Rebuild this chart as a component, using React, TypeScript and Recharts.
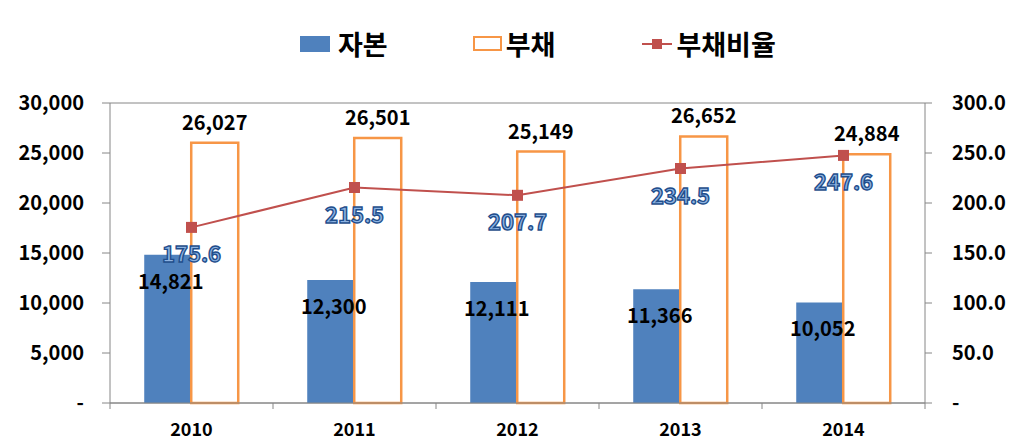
import { Bar, CartesianGrid, ComposedChart, LabelList, Line, XAxis, YAxis } from "recharts";

const YEARS = ["2010", "2011", "2012", "2013", "2014"];
const CAPITAL = [14821, 12300, 12111, 11366, 10052];
const DEBT = [26027, 26501, 25149, 26652, 24884];
const DEBT_RATIO = [175.6, 215.5, 207.7, 234.5, 247.6];
const LEFT_TICKS = [0, 5000, 10000, 15000, 20000, 25000, 30000];
const RIGHT_TICKS = [0, 50, 100, 150, 200, 250, 300];

const data = YEARS.map((year, i) => ({
  year,
  capital: CAPITAL[i],
  debt: DEBT[i],
  ratio: DEBT_RATIO[i],
}));

const BLUE = "#4f81bd";
const ORANGE = "#f79646";
const RED = "#c0504d";
const FONT = "'Noto Sans CJK KR', 'Noto Sans', sans-serif";
const tickStyle = { fill: "#000", fontFamily: FONT, fontWeight: 700, fontSize: 20 };

const fmtLeft = (v: number) => (v === 0 ? "-" : v.toLocaleString("en-US"));
const fmtRight = (v: number) => (v === 0 ? "-" : v.toFixed(1));

const BAND = 163;

function YearTick({ x, y, payload, index }: any) {
  return (
    <g>
      <line x1={x - BAND / 2} x2={x - BAND / 2} y1={y - 8} y2={y - 2} stroke="#868686" />
      {index === YEARS.length - 1 && (
        <line x1={x + BAND / 2} x2={x + BAND / 2} y1={y - 8} y2={y - 2} stroke="#868686" />
      )}
      <text x={x} y={y + 25} textAnchor="middle" fontFamily={FONT} fontWeight={700} fontSize={18} fill="#000">
        {payload.value}
      </text>
    </g>
  );
}

function RatioLabel({ x, y, value }: any) {
  return (
    <text
      x={x}
      y={y + 35}
      textAnchor="middle"
      fontFamily={FONT}
      fontWeight={700}
      fontSize={22}
      fill="#8db3e2"
      stroke="#1f4e8c"
      strokeWidth={1.4}
    >
      {Number(value).toFixed(1)}
    </text>
  );
}

function CapitalLabel({ x, y, width, value }: any) {
  return (
    <text x={x + width / 2 + 3} y={y + 34} textAnchor="middle" fontFamily={FONT} fontWeight={700} fontSize={20} fill="#000">
      {Number(value).toLocaleString("en-US")}
    </text>
  );
}

function DebtLabel({ x, y, width, value }: any) {
  return (
    <text x={x + width / 2} y={y - 13} textAnchor="middle" fontFamily={FONT} fontWeight={700} fontSize={20} fill="#000">
      {Number(value).toLocaleString("en-US")}
    </text>
  );
}

function SquareDot({ cx, cy }: any) {
  return <rect x={cx - 5.5} y={cy - 5.5} width={11} height={11} fill={RED} />;
}

function TopLegend() {
  const text = { fontFamily: FONT, fontWeight: 700, fontSize: 27, color: "#000", lineHeight: "27px" };
  return (
    <div style={{ position: "absolute", top: 30, left: 300, display: "flex", alignItems: "center" }}>
      <div style={{ width: 30, height: 16, background: BLUE, marginRight: 8 }} />
      <span style={text}>자본</span>
      <div style={{ width: 25, height: 11, border: `2.5px solid ${ORANGE}`, marginLeft: 85, marginRight: 4 }} />
      <span style={text}>부채</span>
      <svg width={30} height={16} style={{ marginLeft: 87, marginRight: 4 }}>
        <line x1={0} x2={30} y1={8} y2={8} stroke={RED} strokeWidth={2} />
        <rect x={10} y={3} width={10} height={10} fill={RED} />
      </svg>
      <span style={text}>부채비율</span>
    </div>
  );
}

export default function App() {
  return (
    <div style={{ position: "absolute", left: 0, top: 0, width: 1024, height: 443, background: "#fff" }}>
      <TopLegend />
      <ComposedChart
        width={1024}
        height={443}
        data={data}
        margin={{ top: 103, right: 0, left: 0, bottom: 10 }}
        barCategoryGap="21%"
        barGap={0}
      >
        <CartesianGrid stroke="#868686" vertical={false} />
        <XAxis
          dataKey="year"
          tick={<YearTick />}
          tickLine={false}
          axisLine={{ stroke: "#868686" }}
          height={30}
          interval={0}
        />
        <YAxis
          yAxisId="left"
          width={110}
          domain={[0, 30000]}
          ticks={LEFT_TICKS}
          tickFormatter={fmtLeft}
          tick={tickStyle}
          tickSize={8}
          tickMargin={18}
          tickLine={{ stroke: "#868686" }}
          axisLine={{ stroke: "#868686" }}
          interval={0}
        />
        <YAxis
          yAxisId="right"
          orientation="right"
          width={99}
          domain={[0, 300]}
          ticks={RIGHT_TICKS}
          tickFormatter={fmtRight}
          tick={{ ...tickStyle, textAnchor: "start" }}
          tickSize={7}
          tickMargin={20}
          tickLine={{ stroke: "#868686" }}
          axisLine={{ stroke: "#868686" }}
          interval={0}
        />
        <Bar dataKey="capital" yAxisId="left" fill={BLUE} isAnimationActive={false}>
          <LabelList dataKey="capital" content={<CapitalLabel />} />
        </Bar>
        <Bar dataKey="debt" yAxisId="left" fill="#fff" stroke={ORANGE} strokeWidth={2.5} isAnimationActive={false}>
          <LabelList dataKey="debt" content={<DebtLabel />} />
        </Bar>
        <Line
          dataKey="ratio"
          yAxisId="right"
          stroke={RED}
          strokeWidth={2}
          dot={<SquareDot />}
          activeDot={false}
          isAnimationActive={false}
        >
          <LabelList dataKey="ratio" content={<RatioLabel />} />
        </Line>
      </ComposedChart>
    </div>
  );
}
